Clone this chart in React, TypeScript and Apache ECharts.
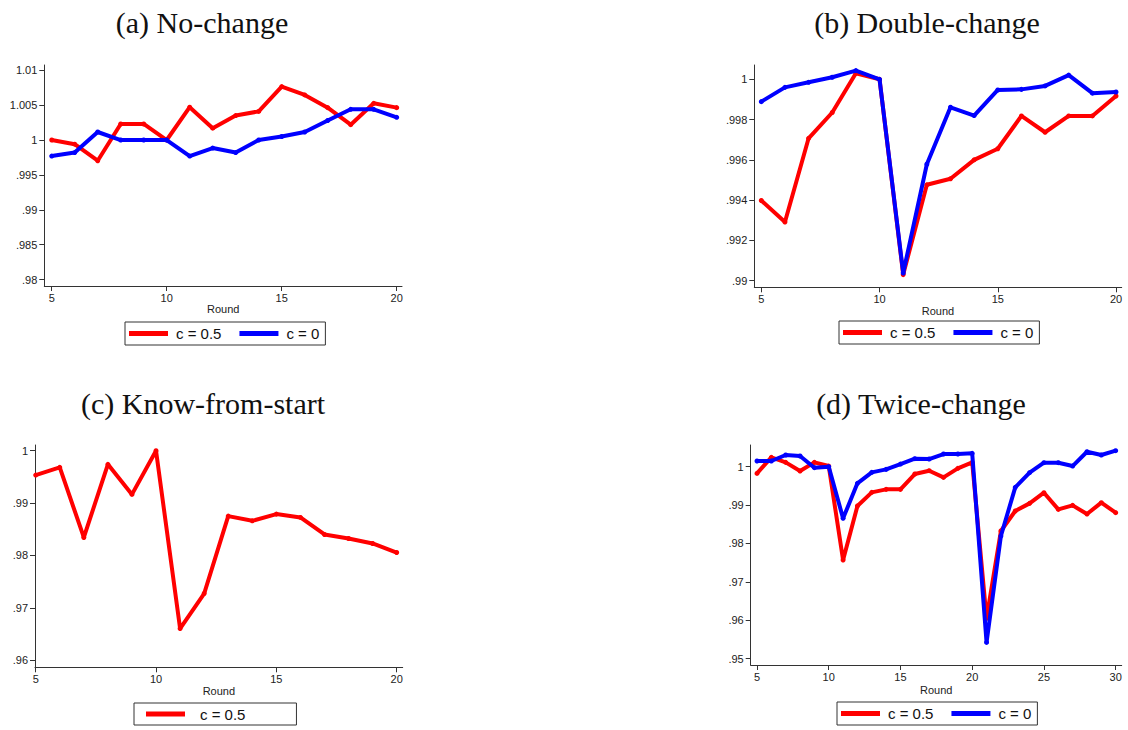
import React, { useEffect, useRef } from "react";
import * as echarts from "echarts";

// ---------- data ----------
const roundsShort = [5, 6, 7, 8, 9, 10, 11, 12, 13, 14, 15, 16, 17, 18, 19, 20];
const roundsLong = [5, 6, 7, 8, 9, 10, 11, 12, 13, 14, 15, 16, 17, 18, 19, 20, 21, 22, 23, 24, 25, 26, 27, 28, 29, 30];

// (a) No-change
const noChangeHalf = [1.0, 0.9994, 0.99703, 1.0023, 1.0023, 1.0, 1.0047, 1.0017, 1.0035, 1.0041, 1.00765, 1.00646, 1.00464, 1.0022, 1.00526, 1.00464];
const noChangeZero = [0.9977, 0.9982, 1.00115, 1.0, 1.0, 1.0, 0.9977, 0.99885, 0.9982, 1.0, 1.0005, 1.00115, 1.0028, 1.0044, 1.0044, 1.00325];

// (b) Double-change
const doubleHalf = [0.99398, 0.99291, 0.99707, 0.99835, 1.0003, 1.0, 0.9903, 0.99476, 0.99506, 0.996, 0.99655, 0.99818, 0.99737, 0.99818, 0.99818, 0.99917];
const doubleZero = [0.99889, 0.9996, 0.99985, 1.0001, 1.00043, 1.0, 0.99038, 0.99578, 0.99861, 0.9982, 0.99947, 0.9995, 0.99967, 1.00021, 0.99931, 0.99937];

// (c) Know-from-start
const knowHalf = [0.99535, 0.99682, 0.98344, 0.9974, 0.99166, 1.0, 0.96605, 0.97274, 0.98752, 0.98662, 0.9879, 0.98726, 0.98401, 0.98325, 0.98229, 0.98057];

// (d) Twice-change
const twiceHalf = [0.99826, 1.00243, 1.00113, 0.99887, 1.00113, 1.00017, 0.9757, 0.98976, 0.99332, 0.9941, 0.9941, 0.99809, 0.99896, 0.99722, 0.99957, 1.00113, 0.9605, 0.98325, 0.98846, 0.99045, 0.99323, 0.98889, 0.98993, 0.98767, 0.99063, 0.98802];
const twiceZero = [1.00148, 1.00148, 1.00304, 1.00278, 0.99974, 1.0, 0.98655, 0.99566, 0.99852, 0.9993, 1.00069, 1.00208, 1.002, 1.0033, 1.0033, 1.00347, 0.95425, 0.98194, 0.99462, 0.99844, 1.00104, 1.00104, 1.00017, 1.0039, 1.00304, 1.00417];

// tick labels
const xTicksShort = [5, 10, 15, 20];
const xTicksLong = [5, 10, 15, 20, 25, 30];
const yTicksA = [0.98, 0.985, 0.99, 0.995, 1, 1.005, 1.01];
const yTicksB = [0.99, 0.992, 0.994, 0.996, 0.998, 1];
const yTicksC = [0.96, 0.97, 0.98, 0.99, 1];
const yTicksD = [0.95, 0.96, 0.97, 0.98, 0.99, 1];

const titles = ["(a) No-change", "(b) Double-change", "(c) Know-from-start", "(d) Twice-change"];
const seriesNames = ["c = 0.5", "c = 0"];

const RED = "#ff0000";
const BLUE = "#0000ff";
const AXIS = "#333333";
const SANS = "'Liberation Sans', Arial, Helvetica, sans-serif";
const SERIF = "'Liberation Serif', 'Times New Roman', serif";

const fmt = (v: number) => {
  const s = String(Math.round(v * 100000) / 100000);
  return s.startsWith("0.") ? s.slice(1) : s;
};

const pairs = (xs: number[], ys: number[]) => xs.map((x, i) => [x, ys[i]]);

export default function App() {
  const ref = useRef<HTMLDivElement>(null);

  useEffect(() => {
    if (!ref.current) return;
    const chart = echarts.init(ref.current, undefined, { renderer: "svg" });

    const grids = [
      { left: 44.3, top: 65, width: 357.7, height: 221 },
      { left: 754.3, top: 65, width: 367.4, height: 222.3 },
      { left: 35, top: 445, width: 367.7, height: 222.3 },
      { left: 750.7, top: 445, width: 371, height: 220 },
    ];

    const xRanges = [
      { min: 4.678, max: 20.23, ticks: xTicksShort, gap: 17 },
      { min: 4.704, max: 20.24, ticks: xTicksShort, gap: 17 },
      { min: 4.971, max: 20.25, ticks: xTicksShort, gap: 17 },
      { min: 4.561, max: 30.42, ticks: xTicksLong, gap: 19 },
    ];
    const yRanges = [
      { min: 0.97908, max: 1.01075, ticks: yTicksA },
      { min: 0.98967, max: 1.00071, ticks: yTicksB },
      { min: 0.95866, max: 1.00109, ticks: yTicksC },
      { min: 0.94836, max: 1.00565, ticks: yTicksD },
    ];

    const xAxis = xRanges.map((r, i) => ({
      type: "value",
      gridIndex: i,
      min: r.min,
      max: r.max,
      name: "Round",
      nameLocation: "middle",
      nameGap: r.gap,
      nameTextStyle: { fontSize: 11, color: "#222", fontFamily: SANS },
      splitLine: { show: false },
      axisLine: { onZero: false, lineStyle: { color: AXIS, width: 1 } },
      axisTick: { show: true, length: 5, customValues: r.ticks, lineStyle: { color: AXIS } },
      axisLabel: {
        customValues: r.ticks,
        fontSize: 11,
        color: "#222",
        fontFamily: SANS,
        margin: 6,
        formatter: (v: number) => String(v),
      },
    }));

    const yAxis = yRanges.map((r, i) => ({
      type: "value",
      gridIndex: i,
      min: r.min,
      max: r.max,
      splitLine: { show: false },
      axisLine: { show: true, onZero: false, lineStyle: { color: AXIS, width: 1 } },
      axisTick: { show: true, length: 5, customValues: r.ticks, lineStyle: { color: AXIS } },
      axisLabel: {
        customValues: r.ticks,
        fontSize: 11,
        color: "#222",
        fontFamily: SANS,
        margin: 7,
        formatter: (v: number) => fmt(v),
      },
    }));

    const lineSeries = (name: string, color: string, idx: number, data: number[][]) => ({
      type: "line",
      name,
      xAxisIndex: idx,
      yAxisIndex: idx,
      data,
      symbol: "circle",
      symbolSize: 5,
      showSymbol: true,
      itemStyle: { color },
      lineStyle: { color, width: 4 },
      z: color === BLUE ? 3 : 2,
    });

    const series = [
      lineSeries(seriesNames[0], RED, 0, pairs(roundsShort, noChangeHalf)),
      lineSeries(seriesNames[1], BLUE, 0, pairs(roundsShort, noChangeZero)),
      lineSeries(seriesNames[0], RED, 1, pairs(roundsShort, doubleHalf)),
      lineSeries(seriesNames[1], BLUE, 1, pairs(roundsShort, doubleZero)),
      lineSeries(seriesNames[0], RED, 2, pairs(roundsShort, knowHalf)),
      lineSeries(seriesNames[0], RED, 3, pairs(roundsLong, twiceHalf)),
      lineSeries(seriesNames[1], BLUE, 3, pairs(roundsLong, twiceZero)),
    ];

    const titlePos = [
      { left: 197, top: 2 },
      { left: 922, top: 2 },
      { left: 198, top: 383 },
      { left: 916, top: 383 },
    ];
    const title = titles.map((t, i) => ({
      text: t,
      left: titlePos[i].left,
      top: titlePos[i].top,
      textAlign: "center",
      textStyle: { fontFamily: SERIF, fontSize: 30, fontWeight: "normal", color: "#111" },
    }));

    const legendBase = {
      orient: "horizontal",
      icon: "rect",
      itemWidth: 39,
      itemHeight: 5,
      itemGap: 18,
      borderColor: "#333",
      borderWidth: 1,
      backgroundColor: "#fff",
      selectedMode: false,
    };
    const legend = [
      {
        ...legendBase,
        left: 125,
        top: 322,
        padding: [4, 6, 4, 4],
        data: seriesNames,
        textStyle: { fontSize: 15, color: "#111", fontFamily: SANS, padding: [0, 0, 0, 3] },
      },
      {
        ...legendBase,
        left: 839,
        top: 321,
        padding: [4, 6, 4, 4],
        data: seriesNames,
        textStyle: { fontSize: 15, color: "#111", fontFamily: SANS, padding: [0, 0, 0, 3] },
      },
      {
        ...legendBase,
        left: 134,
        top: 703,
        padding: [3.5, 51, 3.5, 12],
        data: [seriesNames[0]],
        textStyle: { fontSize: 15, color: "#111", fontFamily: SANS, padding: [0, 0, 0, 10] },
      },
      {
        ...legendBase,
        left: 837,
        top: 702,
        padding: [4, 6, 4, 4],
        data: seriesNames,
        textStyle: { fontSize: 15, color: "#111", fontFamily: SANS, padding: [0, 0, 0, 3] },
      },
    ];

    chart.setOption({
      animation: false,
      backgroundColor: "#ffffff",
      title,
      legend,
      grid: grids,
      xAxis,
      yAxis,
      series,
    });

    return () => chart.dispose();
  }, []);

  return (
    <div
      ref={ref}
      style={{ position: "fixed", left: 0, top: 0, width: 1128, height: 730, background: "#fff" }}
    />
  );
}
